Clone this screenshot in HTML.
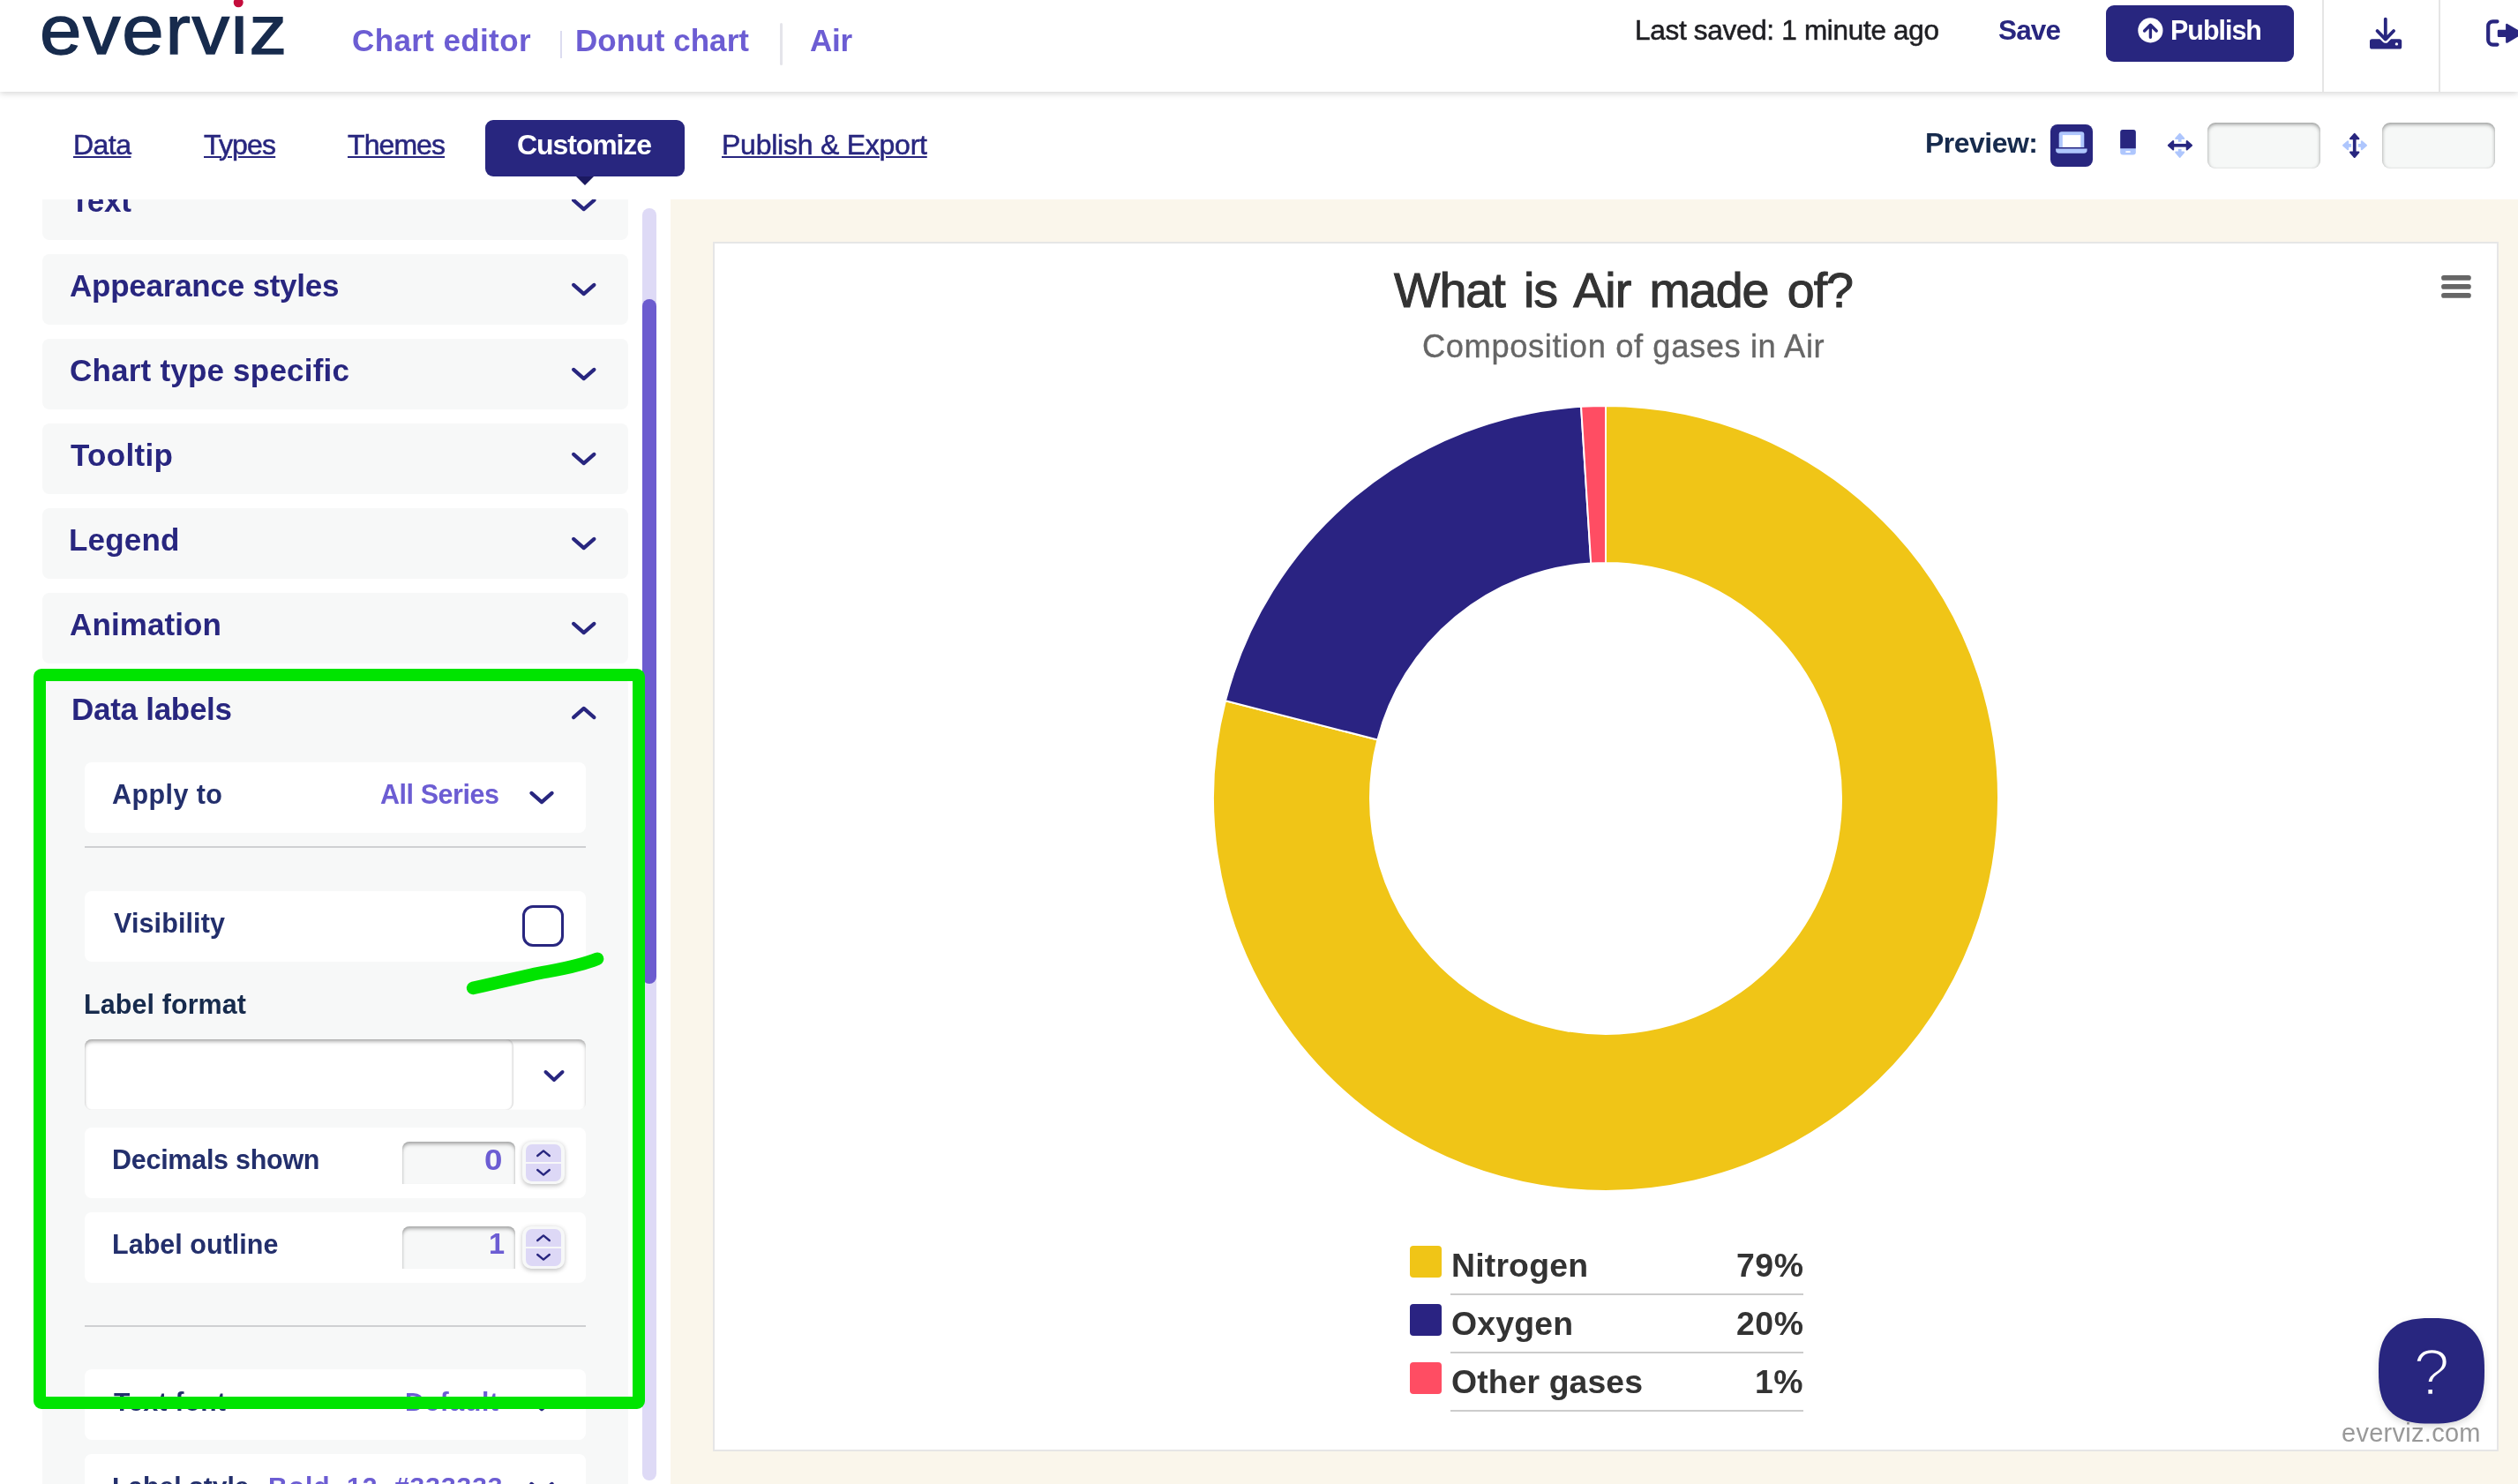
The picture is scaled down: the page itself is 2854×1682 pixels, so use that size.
<!DOCTYPE html>
<html lang="en"><head><meta charset="utf-8"><title>everviz - Chart editor</title>
<style>
html,body{margin:0;padding:0;}
body{width:2854px;height:1682px;overflow:hidden;position:relative;background:#fff;font-family:"Liberation Sans", Arial, sans-serif;}
.t{position:absolute;white-space:nowrap;line-height:1;font-family:"Liberation Sans", Arial, sans-serif;will-change:transform;}
.abs{position:absolute;}
svg.ov{position:absolute;left:0;top:0;}
.acc{position:absolute;left:48px;width:664px;height:80px;background:#f7f8f8;border-radius:8px;}
.row{position:absolute;left:96px;width:568px;height:80px;background:#fff;border-radius:8px;}
.num{position:absolute;left:456px;width:128px;height:48px;background:#f7f8f8;border-radius:8px 8px 0 0;box-shadow:inset 0 3.5px 4px -1px rgba(0,0,0,.36), inset 2.5px 0 2px -1.5px rgba(0,0,0,.05), inset -2.5px 0 2px -1.5px rgba(0,0,0,.05);}
.step{position:absolute;left:592px;width:48px;height:48px;background:#f7f8f8;border-radius:10px;box-shadow:0 1.5px 5px rgba(0,0,0,.24);}
.step i{position:absolute;left:4px;width:40px;height:19.9px;background:#ddd8f6;}
.prev{position:absolute;top:139px;width:128px;height:51.5px;background:#f6f8f7;border-radius:9px;box-shadow:inset 0 2px 4px rgba(0,0,0,.38), inset 0 0 1.5px rgba(0,0,0,.08);}
</style></head><body>

<!-- ================= chart area ================= -->
<div class="abs" style="left:760px;top:226px;width:2094px;height:1456px;background:#faf6eb;"></div>
<div class="abs" style="left:808px;top:274px;width:2019.7px;height:1367px;background:#fff;border:2px solid #e6e6e6;"></div>
<div class="abs" style="left:1598px;top:1412px;width:36px;height:36px;border-radius:4px;background:#f0c517;"></div>
<div class="abs" style="left:1598px;top:1478px;width:36px;height:36px;border-radius:4px;background:#2a2382;"></div>
<div class="abs" style="left:1598px;top:1544px;width:36px;height:36px;border-radius:4px;background:#ff4d63;"></div>
<div class="abs" style="left:1644px;top:1465.5px;width:400px;height:2px;background:#ccc;"></div>
<div class="abs" style="left:1644px;top:1531.5px;width:400px;height:2px;background:#ccc;"></div>
<div class="abs" style="left:1644px;top:1597.5px;width:400px;height:2px;background:#ccc;"></div>
<svg class="ov" width="2854" height="1682" viewBox="0 0 2854 1682">
<path d="M1820.00 459.90 A445 445 0 1 1 1388.98 794.23 L1561.39 838.50 A267 267 0 1 0 1820.00 637.90 Z" fill="#f0c517" stroke="#fff" stroke-width="2" stroke-linejoin="round"/><path d="M1388.98 794.23 A445 445 0 0 1 1792.06 460.78 L1803.23 638.43 A267 267 0 0 0 1561.39 838.50 Z" fill="#2a2382" stroke="#fff" stroke-width="2" stroke-linejoin="round"/><path d="M1792.06 460.78 A445 445 0 0 1 1820.00 459.90 L1820.00 637.90 A267 267 0 0 0 1803.23 638.43 Z" fill="#ff4d63" stroke="#fff" stroke-width="2" stroke-linejoin="round"/>
<g fill="#666"><rect x="2767.1" y="312.1" width="33.7" height="5.7" rx="2.85"/><rect x="2767.1" y="322.1" width="33.7" height="5.7" rx="2.85"/><rect x="2767.1" y="332.05" width="33.7" height="5.7" rx="2.85"/></g>
</svg>
<span class="t" style="left:1579.8px;top:302px;font-size:55.6px;font-weight:400;color:#333;letter-spacing:-1.05px;word-spacing:7px;-webkit-text-stroke:1.1px #333;">What is Air made of?</span>
<span class="t" style="left:1612.2px;top:375px;font-size:36.3px;font-weight:400;color:#666;letter-spacing:0.61px;-webkit-text-stroke:0.35px #666;">Composition of gases in Air</span>
<span class="t" style="left:1645.0px;top:1416px;font-size:37.4px;font-weight:700;color:#333;letter-spacing:0.18px;">Nitrogen</span>
<span class="t" style="left:1645.0px;top:1482px;font-size:37.4px;font-weight:700;color:#333;letter-spacing:0.17px;">Oxygen</span>
<span class="t" style="left:1645.0px;top:1548px;font-size:37.4px;font-weight:700;color:#333;letter-spacing:0.09px;">Other gases</span>
<span class="t" style="left:1968.0px;top:1416px;font-size:37.4px;font-weight:700;color:#333;letter-spacing:0.58px;">79%</span>
<span class="t" style="left:1968.0px;top:1482px;font-size:37.4px;font-weight:700;color:#333;letter-spacing:0.58px;">20%</span>
<span class="t" style="left:1988.5px;top:1548px;font-size:37.4px;font-weight:700;color:#333;letter-spacing:0.45px;">1%</span>
<span class="t" style="left:2653.7px;top:1610px;font-size:29px;font-weight:400;color:#999;letter-spacing:0.28px;">everviz.com</span>

<!-- ================= left panel (scrolled, clipped under tab bar) ================= -->
<div class="abs" style="left:0;top:226px;width:760px;height:1456px;overflow:hidden;background:#fff;">
<div class="abs" style="left:0;top:-226px;width:760px;height:1908px;">
<div class="acc" style="top:192px;"></div>
<div class="acc" style="top:288px;"></div>
<div class="acc" style="top:384px;"></div>
<div class="acc" style="top:480px;"></div>
<div class="acc" style="top:576px;"></div>
<div class="acc" style="top:672px;"></div>
<div class="acc" style="top:768px;height:1000px;"></div>
<div class="row" style="top:864px;"></div>
<div class="abs" style="left:96px;top:959px;width:568px;height:2px;background:#cfd0d2;"></div>
<div class="row" style="top:1010px;"></div>
<div class="row" style="top:1178px;box-shadow:inset 0 3.5px 4px -1px rgba(0,0,0,.34), inset 1px 0 1.5px rgba(0,0,0,.06);"></div>
<div class="abs" style="left:96px;top:1178px;width:486px;height:80px;border-radius:8px;box-shadow:inset -1.5px 0 1.5px rgba(0,0,0,.13);"></div>
<div class="row" style="top:1278px;"></div>
<div class="num" style="top:1294px;"></div>
<div class="step" style="top:1294px;"><i style="top:3px;border-radius:7px 7px 0 0;"></i><i style="top:25.1px;border-radius:0 0 7px 7px;"></i></div>
<div class="row" style="top:1374px;"></div>
<div class="num" style="top:1390px;"></div>
<div class="step" style="top:1390px;"><i style="top:3px;border-radius:7px 7px 0 0;"></i><i style="top:25.1px;border-radius:0 0 7px 7px;"></i></div>
<div class="abs" style="left:96px;top:1502px;width:568px;height:2px;background:#cfd0d2;"></div>
<div class="row" style="top:1552px;"></div>
<div class="row" style="top:1648px;"></div>
<div class="abs" style="left:592px;top:1026px;width:41px;height:41px;border:3.5px solid #28267f;border-radius:12px;background:#fff;"></div>
<div class="abs" style="left:728px;top:236px;width:16px;height:1442px;background:#dedaf6;border-radius:8px;"></div>
<div class="abs" style="left:728px;top:339px;width:16px;height:776px;background:#6c5ccf;border-radius:8px;"></div>
<svg class="ov" width="760" height="1908" viewBox="0 0 760 1908"><path d="M650.1 226.9 L661.7 237.1 L673.4 226.9" fill="none" stroke="#28267f" stroke-width="4.2" stroke-linecap="round" stroke-linejoin="round"/><path d="M650.1 322.9 L661.7 333.1 L673.4 322.9" fill="none" stroke="#28267f" stroke-width="4.2" stroke-linecap="round" stroke-linejoin="round"/><path d="M650.1 418.9 L661.7 429.1 L673.4 418.9" fill="none" stroke="#28267f" stroke-width="4.2" stroke-linecap="round" stroke-linejoin="round"/><path d="M650.1 514.9 L661.7 525.1 L673.4 514.9" fill="none" stroke="#28267f" stroke-width="4.2" stroke-linecap="round" stroke-linejoin="round"/><path d="M650.1 610.9 L661.7 621.1 L673.4 610.9" fill="none" stroke="#28267f" stroke-width="4.2" stroke-linecap="round" stroke-linejoin="round"/><path d="M650.1 706.9 L661.7 717.1 L673.4 706.9" fill="none" stroke="#28267f" stroke-width="4.2" stroke-linecap="round" stroke-linejoin="round"/><path d="M650.1 813.1 L661.7 802.9 L673.4 813.1" fill="none" stroke="#28267f" stroke-width="4.2" stroke-linecap="round" stroke-linejoin="round"/><path d="M602.4 898.9 L614.0 909.1 L625.6 898.9" fill="none" stroke="#28267f" stroke-width="4.2" stroke-linecap="round" stroke-linejoin="round"/><path d="M618.5 1215.0 L628.0 1224.0 L637.5 1215.0" fill="none" stroke="#28267f" stroke-width="4" stroke-linecap="round" stroke-linejoin="round"/><path d="M602.4 1586.9 L614.0 1597.1 L625.6 1586.9" fill="none" stroke="#28267f" stroke-width="4.2" stroke-linecap="round" stroke-linejoin="round"/><path d="M602.4 1681.9 L614.0 1692.1 L625.6 1681.9" fill="none" stroke="#28267f" stroke-width="4.2" stroke-linecap="round" stroke-linejoin="round"/><path d="M609.2 1310.0 L616.0 1304.4 L622.8 1310.0" fill="none" stroke="#28267f" stroke-width="2.4" stroke-linecap="round" stroke-linejoin="round"/><path d="M609.2 1326.0 L616.0 1331.6 L622.8 1326.0" fill="none" stroke="#28267f" stroke-width="2.4" stroke-linecap="round" stroke-linejoin="round"/><path d="M609.2 1406.0 L616.0 1400.4 L622.8 1406.0" fill="none" stroke="#28267f" stroke-width="2.4" stroke-linecap="round" stroke-linejoin="round"/><path d="M609.2 1422.0 L616.0 1427.6 L622.8 1422.0" fill="none" stroke="#28267f" stroke-width="2.4" stroke-linecap="round" stroke-linejoin="round"/></svg>
<span class="t" style="left:80.0px;top:210px;font-size:35px;font-weight:700;color:#28267f;letter-spacing:-0.12px;">Text</span>
<span class="t" style="left:79.0px;top:306px;font-size:35px;font-weight:700;color:#28267f;letter-spacing:-0.24px;">Appearance styles</span>
<span class="t" style="left:79.0px;top:402px;font-size:35px;font-weight:700;color:#28267f;letter-spacing:0.21px;">Chart type specific</span>
<span class="t" style="left:80.0px;top:498px;font-size:35px;font-weight:700;color:#28267f;letter-spacing:0.33px;">Tooltip</span>
<span class="t" style="left:78.0px;top:594px;font-size:35px;font-weight:700;color:#28267f;letter-spacing:0.21px;">Legend</span>
<span class="t" style="left:79.0px;top:690px;font-size:35px;font-weight:700;color:#28267f;letter-spacing:0.11px;">Animation</span>
<span class="t" style="left:81.0px;top:786px;font-size:35px;font-weight:700;color:#28267f;letter-spacing:-0.28px;">Data labels</span>
<span class="t" style="left:127.0px;top:885px;font-size:30.5px;font-weight:700;color:#232f6c;letter-spacing:0.43px;">Apply to</span>
<span class="t" style="left:431.0px;top:885px;font-size:30.5px;font-weight:700;color:#6c5dd3;letter-spacing:-0.45px;">All Series</span>
<span class="t" style="left:128.5px;top:1031px;font-size:30.5px;font-weight:700;color:#232f6c;letter-spacing:0.12px;">Visibility</span>
<span class="t" style="left:95.0px;top:1123px;font-size:30.5px;font-weight:700;color:#172b4d;letter-spacing:0.09px;">Label format</span>
<span class="t" style="left:126.5px;top:1299px;font-size:30.5px;font-weight:700;color:#232f6c;letter-spacing:-0.27px;">Decimals shown</span>
<span class="t" style="left:548.8px;top:1299px;font-size:32.5px;font-weight:700;color:#6c5dd3;letter-spacing:0.00px;transform:scaleX(1.13);transform-origin:0 0;">0</span>
<span class="t" style="left:126.5px;top:1395px;font-size:30.5px;font-weight:700;color:#232f6c;letter-spacing:0.03px;">Label outline</span>
<span class="t" style="left:553.5px;top:1394px;font-size:32.5px;font-weight:700;color:#6c5dd3;letter-spacing:0.00px;">1</span>
<span class="t" style="left:128.5px;top:1574px;font-size:30px;font-weight:700;color:#232f6c;letter-spacing:0.32px;">Text font</span>
<span class="t" style="left:459.0px;top:1574px;font-size:30px;font-weight:700;color:#6c5dd3;letter-spacing:0.72px;">Default</span>
<span class="t" style="left:126.5px;top:1670px;font-size:30px;font-weight:700;color:#232f6c;letter-spacing:0.04px;">Label style</span>
<span class="t" style="left:303.5px;top:1670px;font-size:30px;font-weight:700;color:#6c5dd3;letter-spacing:0.96px;">Bold, 12, #333333</span>
</div></div>

<!-- ================= header + tab bar ================= -->
<div class="abs" style="left:0;top:0;width:2854px;height:104px;background:#fff;box-shadow:0 2px 7px rgba(0,0,0,.16);"></div>
<div class="abs" style="left:2632px;top:0;width:2px;height:104px;background:#e5e5e5;"></div>
<div class="abs" style="left:2764px;top:0;width:2px;height:104px;background:#e5e5e5;"></div>
<div class="abs" style="left:635px;top:34.5px;width:2px;height:31px;background:#dcdcf0;"></div>
<div class="abs" style="left:884px;top:26px;width:3px;height:48px;background:#e4e4ea;border-radius:2px;"></div>
<div class="abs" style="left:2387px;top:6px;width:213px;height:64px;background:#28267f;border-radius:9px;"></div>
<div class="abs" style="left:550px;top:136px;width:226px;height:64px;background:#28267f;border-radius:9px;"></div>
<div class="abs" style="left:2324px;top:141px;width:48px;height:48px;background:#28267f;border-radius:8px;"></div>
<div class="prev" style="left:2502px;"></div>
<div class="prev" style="left:2700px;"></div>
<span class="t" style="left:45.2px;top:-5px;font-size:78.5px;font-weight:400;color:#172b4d;letter-spacing:1.57px;transform:scaleX(1.085);transform-origin:0 0;-webkit-text-stroke:1.3px #172b4d;">everviz</span>
<span class="t" style="left:399.0px;top:28px;font-size:35px;font-weight:700;color:#6c5dd3;letter-spacing:0.38px;">Chart editor</span>
<span class="t" style="left:651.5px;top:28px;font-size:35px;font-weight:700;color:#6c5dd3;letter-spacing:0.06px;">Donut chart</span>
<span class="t" style="left:918.0px;top:28px;font-size:35px;font-weight:700;color:#6c5dd3;letter-spacing:-0.31px;">Air</span>
<span class="t" style="left:1853.0px;top:19px;font-size:31.5px;font-weight:400;color:#1f1f23;letter-spacing:-0.30px;-webkit-text-stroke:0.55px #1f1f23;">Last saved: 1 minute ago</span>
<span class="t" style="left:2265.0px;top:19px;font-size:31.5px;font-weight:700;color:#28267f;letter-spacing:-0.86px;">Save</span>
<span class="t" style="left:2459.6px;top:19px;font-size:30.5px;font-weight:700;color:#fff;letter-spacing:-1.03px;">Publish</span>
<span class="t" style="left:82.5px;top:148px;font-size:32px;font-weight:400;color:#28267f;letter-spacing:-0.53px;text-decoration:underline;text-decoration-thickness:2px;text-underline-offset:2.2px;-webkit-text-stroke:0.5px #28267f;">Data</span>
<span class="t" style="left:231.0px;top:148px;font-size:32px;font-weight:400;color:#28267f;letter-spacing:-0.84px;text-decoration:underline;text-decoration-thickness:2px;text-underline-offset:2.2px;-webkit-text-stroke:0.5px #28267f;">Types</span>
<span class="t" style="left:394.0px;top:148px;font-size:32px;font-weight:400;color:#28267f;letter-spacing:-0.92px;text-decoration:underline;text-decoration-thickness:2px;text-underline-offset:2.2px;-webkit-text-stroke:0.5px #28267f;">Themes</span>
<span class="t" style="left:586.0px;top:148px;font-size:32px;font-weight:700;color:#fff;letter-spacing:-1.10px;">Customize</span>
<span class="t" style="left:818.0px;top:148px;font-size:32px;font-weight:400;color:#28267f;letter-spacing:-0.24px;text-decoration:underline;text-decoration-thickness:2px;text-underline-offset:2.2px;-webkit-text-stroke:0.5px #28267f;">Publish &amp; Export</span>
<span class="t" style="left:2182.0px;top:146px;font-size:32px;font-weight:700;color:#172b4d;letter-spacing:-0.52px;">Preview:</span>
<svg class="ov" width="2854" height="240" viewBox="0 0 2854 240">
<!-- customize pointer -->
<path d="M653 200 L673 200 L663 210 Z" fill="#1b1960"/>
<!-- logo dot -->
<rect x="262" y="0" width="16" height="15.5" fill="#fff"/>
<circle cx="270.2" cy="2.8" r="5.5" fill="#c40d3c"/>
<!-- publish icon -->
<circle cx="2437.4" cy="34.4" r="14.1" fill="#fff"/>
<path d="M2437.4 42.2 V28.6 M2430.6 35 L2437.4 28.3 L2444.2 35" fill="none" stroke="#28267f" stroke-width="3.4" stroke-linecap="round" stroke-linejoin="round"/>
<!-- download icon -->
<rect x="2686" y="44.2" width="36.2" height="11.3" rx="2.6" fill="#28267f"/>
<path d="M2694.5 35 L2703.8 44.6 L2713.1 35" fill="none" stroke="#fff" stroke-width="8.5" stroke-linecap="round" stroke-linejoin="round"/>
<path d="M2703.8 21.6 V44.4 M2694.5 35 L2703.8 44.6 L2713.1 35" fill="none" stroke="#28267f" stroke-width="3.8" stroke-linecap="round" stroke-linejoin="round"/>
<circle cx="2716.4" cy="49.9" r="1.7" fill="#fff"/>
<!-- logout icon -->
<path d="M2830.5 24.3 H2825.5 a5.3 5.3 0 0 0 -5.3 5.3 V45.3 a5.3 5.3 0 0 0 5.3 5.3 H2830.5" fill="none" stroke="#28267f" stroke-width="4.2" stroke-linecap="round"/>
<path d="M2832 35 H2841.3 V28 L2858 37.8 L2841.3 47.6 V40.7 H2832 Z" fill="#28267f" stroke="#28267f" stroke-width="2.4" stroke-linejoin="round"/>
<!-- laptop -->
<path d="M2333.7 167.1 V152.4 a3.2 3.2 0 0 1 3.2 -3.2 H2359.1 a3.2 3.2 0 0 1 3.2 3.2 V167.1 Z" fill="#aec6fd"/>
<rect x="2337.8" y="153.1" width="20.5" height="13.6" fill="#fff"/>
<path d="M2330.1 168.5 H2365.6 V170 a3.8 3.8 0 0 1 -3.8 3.8 H2333.9 a3.8 3.8 0 0 1 -3.8 -3.8 Z" fill="#aec6fd"/>
<!-- mobile -->
<rect x="2403.2" y="147" width="17.6" height="28.6" rx="3" fill="#aec6fd"/>
<path d="M2403.2 168.3 V150 a3 3 0 0 1 3 -3 H2417.8 a3 3 0 0 1 3 3 V168.3 Z" fill="#28267f"/>
<rect x="2409.4" y="171.2" width="5.2" height="1.8" fill="#fff"/>
<!-- arrows 1 -->
<g fill="#aec6fd" stroke="#aec6fd" stroke-width="2" stroke-linejoin="round" stroke-linecap="butt">
<path d="M2470.7 151.9 L2475.2 157 H2466.2 Z"/><path d="M2470.7 177.9 L2475.2 172.6 H2466.2 Z"/>
<path d="M2470.7 157 V160.8 M2470.7 172.6 V168.9" stroke-width="3.7" fill="none"/>
<path d="M2656 164.8 L2661.2 160.3 V169.3 Z"/><path d="M2682 164.8 L2676.8 160.3 V169.3 Z"/>
<path d="M2661.2 164.8 H2665 M2676.8 164.8 H2673" stroke-width="3.7" fill="none"/>
</g>
<g fill="#28267f" stroke="#28267f" stroke-width="2" stroke-linejoin="round" stroke-linecap="butt">
<path d="M2457.8 164.8 L2463.2 160.1 V169.5 Z"/><path d="M2484.1 164.8 L2478.7 160.1 V169.5 Z"/>
<path d="M2463 164.8 H2479" stroke-width="3.7" fill="none"/>
<path d="M2668.7 151.8 L2673.4 157.2 H2664 Z"/><path d="M2668.7 178 L2673.4 172.6 H2664 Z"/>
<path d="M2668.7 157 V173" stroke-width="3.7" fill="none"/>
</g>
</svg>

<!-- ================= green annotations ================= -->
<svg class="ov" width="2854" height="1682" viewBox="0 0 2854 1682">
<rect x="45" y="765" width="679" height="825" rx="2" fill="none" stroke="#00e400" stroke-width="14" stroke-linejoin="round"/>
<path d="M536.1 1119.9 C 560 1114.5, 585 1108.8, 603.3 1104.6 S 652 1097.2, 677.1 1086.8" fill="none" stroke="#00e400" stroke-width="14.5" stroke-linecap="round"/>
</svg>

<!-- ================= help button ================= -->
<svg class="ov" width="2854" height="1682" viewBox="0 0 2854 1682"><defs><filter id="hs" x="-20%" y="-20%" width="140%" height="150%"><feGaussianBlur stdDeviation="5"/></filter></defs><polygon points="2814.0,1557.0 2813.9,1564.7 2813.6,1569.8 2813.2,1574.3 2812.5,1578.3 2811.7,1582.0 2810.7,1585.5 2809.5,1588.7 2808.1,1591.7 2806.6,1594.5 2804.9,1597.2 2803.0,1599.6 2800.9,1601.9 2798.6,1604.0 2796.2,1605.9 2793.5,1607.6 2790.7,1609.1 2787.7,1610.5 2784.5,1611.7 2781.0,1612.7 2777.3,1613.5 2773.3,1614.2 2768.8,1614.6 2763.7,1614.9 2756.0,1615.0 2748.3,1614.9 2743.2,1614.6 2738.7,1614.2 2734.7,1613.5 2731.0,1612.7 2727.5,1611.7 2724.3,1610.5 2721.3,1609.1 2718.5,1607.6 2715.8,1605.9 2713.4,1604.0 2711.1,1601.9 2709.0,1599.6 2707.1,1597.2 2705.4,1594.5 2703.9,1591.7 2702.5,1588.7 2701.3,1585.5 2700.3,1582.0 2699.5,1578.3 2698.8,1574.3 2698.4,1569.8 2698.1,1564.7 2698.0,1557.0 2698.1,1549.3 2698.4,1544.2 2698.8,1539.7 2699.5,1535.7 2700.3,1532.0 2701.3,1528.5 2702.5,1525.3 2703.9,1522.3 2705.4,1519.5 2707.1,1516.8 2709.0,1514.4 2711.1,1512.1 2713.4,1510.0 2715.8,1508.1 2718.5,1506.4 2721.3,1504.9 2724.3,1503.5 2727.5,1502.3 2731.0,1501.3 2734.7,1500.5 2738.7,1499.8 2743.2,1499.4 2748.3,1499.1 2756.0,1499.0 2763.7,1499.1 2768.8,1499.4 2773.3,1499.8 2777.3,1500.5 2781.0,1501.3 2784.5,1502.3 2787.7,1503.5 2790.7,1504.9 2793.5,1506.4 2796.2,1508.1 2798.6,1510.0 2800.9,1512.1 2803.0,1514.4 2804.9,1516.8 2806.6,1519.5 2808.1,1522.3 2809.5,1525.3 2810.7,1528.5 2811.7,1532.0 2812.5,1535.7 2813.2,1539.7 2813.6,1544.2 2813.9,1549.3" fill="rgba(0,0,0,.22)" filter="url(#hs)"/><polygon points="2816.0,1553.8 2815.9,1561.7 2815.6,1567.0 2815.1,1571.6 2814.5,1575.8 2813.6,1579.6 2812.6,1583.2 2811.4,1586.5 2809.9,1589.6 2808.3,1592.5 2806.5,1595.2 2804.6,1597.7 2802.4,1600.1 2800.1,1602.2 2797.5,1604.2 2794.8,1606.0 2791.9,1607.6 2788.8,1609.0 2785.5,1610.2 2781.9,1611.2 2778.0,1612.1 2773.9,1612.7 2769.3,1613.2 2764.0,1613.5 2756.0,1613.6 2748.0,1613.5 2742.7,1613.2 2738.1,1612.7 2734.0,1612.1 2730.1,1611.2 2726.5,1610.2 2723.2,1609.0 2720.1,1607.6 2717.2,1606.0 2714.5,1604.2 2711.9,1602.2 2709.6,1600.1 2707.4,1597.7 2705.5,1595.2 2703.7,1592.5 2702.1,1589.6 2700.6,1586.5 2699.4,1583.2 2698.4,1579.6 2697.5,1575.8 2696.9,1571.6 2696.4,1567.0 2696.1,1561.7 2696.0,1553.8 2696.1,1545.9 2696.4,1540.6 2696.9,1536.0 2697.5,1531.8 2698.4,1528.0 2699.4,1524.4 2700.6,1521.1 2702.1,1518.0 2703.7,1515.1 2705.5,1512.4 2707.4,1509.9 2709.6,1507.5 2711.9,1505.4 2714.5,1503.4 2717.2,1501.6 2720.1,1500.0 2723.2,1498.6 2726.5,1497.4 2730.1,1496.4 2734.0,1495.5 2738.1,1494.9 2742.7,1494.4 2748.0,1494.1 2756.0,1494.0 2764.0,1494.1 2769.3,1494.4 2773.9,1494.9 2778.0,1495.5 2781.9,1496.4 2785.5,1497.4 2788.8,1498.6 2791.9,1500.0 2794.8,1501.6 2797.5,1503.4 2800.1,1505.4 2802.4,1507.5 2804.6,1509.9 2806.5,1512.4 2808.3,1515.1 2809.9,1518.0 2811.4,1521.1 2812.6,1524.4 2813.6,1528.0 2814.5,1531.8 2815.1,1536.0 2815.6,1540.6 2815.9,1545.9" fill="#28267f"/></svg>
<span class="t" style="left:2734.9px;top:1518px;font-size:75px;font-weight:400;color:#fff;letter-spacing:0.00px;-webkit-text-stroke:2.6px #28267f;">?</span>
</body></html>
